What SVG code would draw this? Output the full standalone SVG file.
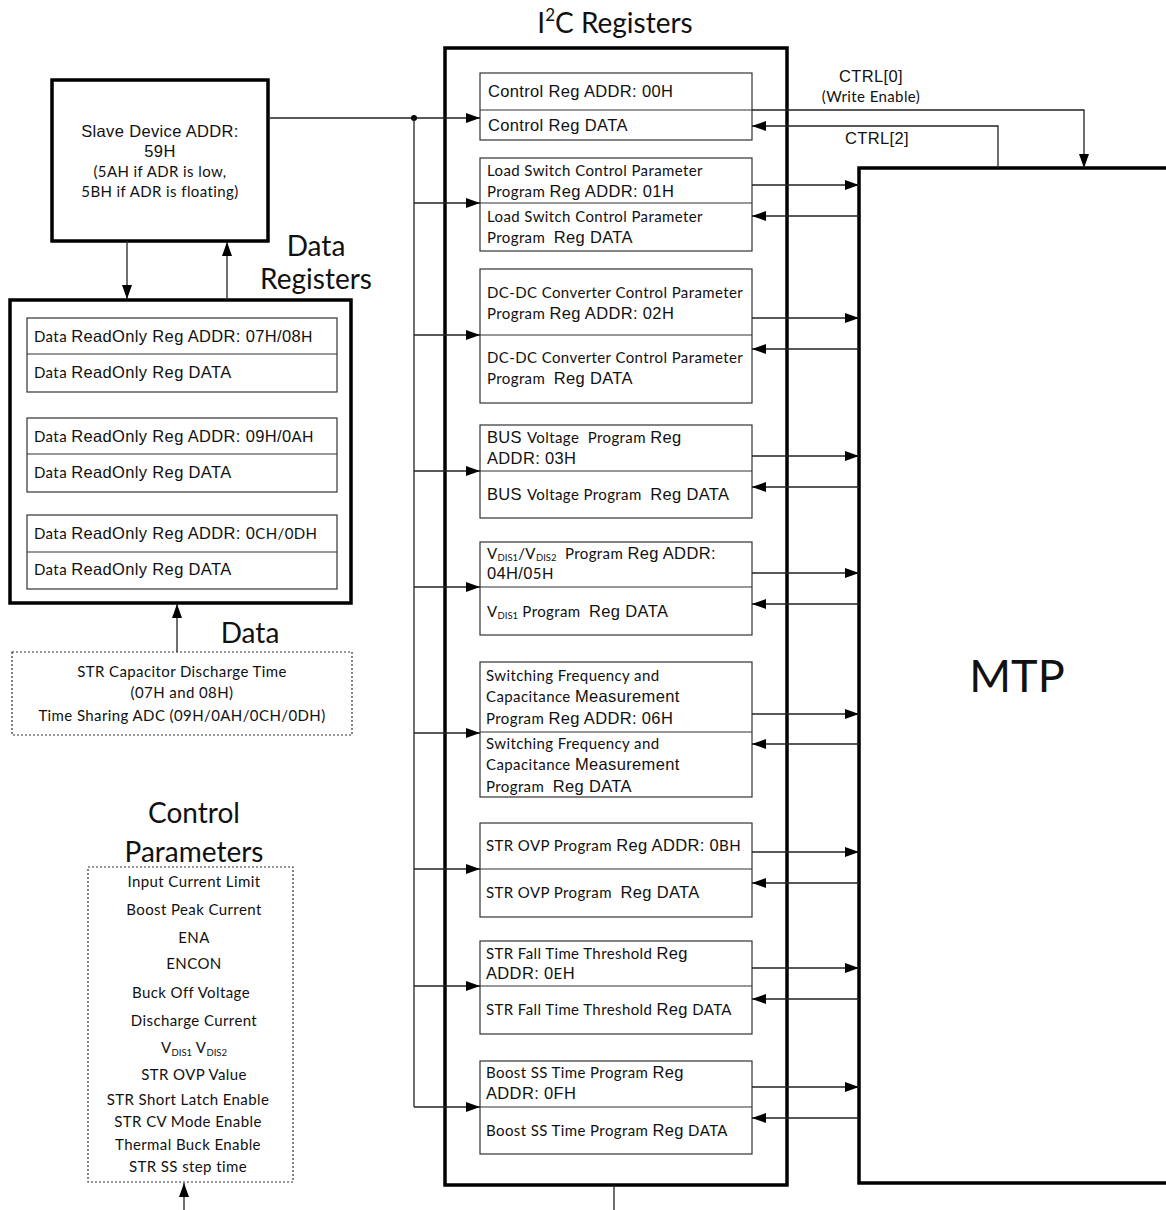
<svg xmlns="http://www.w3.org/2000/svg" width="1166" height="1210" viewBox="0 0 1166 1210">
<style>
.thick{fill:#fff;stroke:#000;stroke-width:3.5}
.reg{fill:#fff;stroke:#333;stroke-width:1.2}
.dot{fill:#fff;stroke:#333;stroke-width:1.2;stroke-dasharray:2 2}
.ln{fill:none;stroke:#222;stroke-width:1.3}
.a{font-family:"Liberation Sans",Arial,sans-serif;font-size:16.5px;letter-spacing:0.35px;fill:#111}
.c{font-family:Lato,"Noto Sans",sans-serif;font-size:15px;letter-spacing:0.4px;fill:#111}
.t{font-family:Lato,"Noto Sans",sans-serif;font-size:28px;fill:#111}
.sub{font-size:9.5px;letter-spacing:0}
.mid{text-anchor:middle}
.p{white-space:pre}
</style>
<defs>
<marker id="ah" viewBox="0 0 14 10" refX="14" refY="5" markerWidth="14" markerHeight="10" markerUnits="userSpaceOnUse" orient="auto">
<path d="M0,0 L14,5 L0,10 Z" fill="#000"/>
</marker>
</defs>

<text class="t mid" x="615" y="33">I<tspan font-size="17" dy="-12">2</tspan><tspan dy="12">C Registers</tspan></text>
<text class="t mid" x="316" y="256">Data</text>
<text class="t mid" x="316" y="289">Registers</text>
<text class="t mid" x="250" y="643">Data</text>
<text class="t mid" x="194" y="823">Control</text>
<text class="t mid" x="194" y="862">Parameters</text>

<g id="slave">
<rect class="thick" x="52" y="80" width="216" height="161"/>
<text class="a mid" x="160" y="137" font-size="16">Slave Device ADDR:</text>
<text class="a mid" x="160" y="157" font-size="16">59H</text>
<text class="c mid" x="160" y="177">(5AH if ADR is low,</text>
<text class="c mid" x="160" y="197">5BH if ADR is floating)</text>
</g>

<g id="data-registers">
<rect class="thick" x="10" y="300" width="341" height="303"/>
<rect class="reg" x="27" y="318" width="310" height="74"/>
<line class="reg" x1="27" y1="354" x2="337" y2="354"/>
<text class="a" x="34" y="342"><tspan class="c" font-size="14">Data </tspan>ReadOnly Reg ADDR: 07H/08<tspan class="c" font-size="14">H</tspan></text>
<text class="a" x="34" y="378"><tspan class="c" font-size="14">Data </tspan>ReadOnly Reg DATA</text>
<rect class="reg" x="27" y="418" width="310" height="74"/>
<line class="reg" x1="27" y1="454" x2="337" y2="454"/>
<text class="a" x="34" y="442"><tspan class="c" font-size="14">Data </tspan>ReadOnly Reg ADDR: 09H/0<tspan class="c" font-size="14">AH</tspan></text>
<text class="a" x="34" y="478"><tspan class="c" font-size="14">Data </tspan>ReadOnly Reg DATA</text>
<rect class="reg" x="27" y="515" width="310" height="74"/>
<line class="reg" x1="27" y1="552" x2="337" y2="552"/>
<text class="a" x="34" y="539"><tspan class="c" font-size="14">Data </tspan>ReadOnly Reg ADDR: 0<tspan class="c" font-size="14">CH/0DH</tspan></text>
<text class="a" x="34" y="575"><tspan class="c" font-size="14">Data </tspan>ReadOnly Reg DATA</text>
</g>

<g id="data-source">
<rect class="dot" x="12" y="652" width="340" height="83"/>
<text class="c mid" x="182" y="677">STR Capacitor Discharge Time</text>
<text class="c mid" x="182" y="698">(07H and 08H)</text>
<text class="c mid" x="182" y="721">Time Sharing ADC (09H/0AH/0CH/0DH)</text>
</g>

<g id="control-parameters">
<rect class="dot" x="88" y="867" width="205" height="315"/>
<text class="c mid" x="194" y="887">Input Current Limit</text>
<text class="c mid" x="194" y="915">Boost Peak Current</text>
<text class="c mid" x="194" y="943">ENA</text>
<text class="c mid" x="194" y="969">ENCON</text>
<text class="c mid" x="191" y="998">Buck Off Voltage</text>
<text class="c mid" x="194" y="1026">Discharge Current</text>
<text class="c mid" x="194" y="1053">V<tspan class="sub" dy="3">DIS1</tspan><tspan dy="-3"> V</tspan><tspan class="sub" dy="3">DIS2</tspan></text>
<text class="c mid" x="194" y="1080">STR OVP Value</text>
<text class="c mid" x="188" y="1105">STR Short Latch Enable</text>
<text class="c mid" x="188" y="1127">STR CV Mode Enable</text>
<text class="c mid" x="188" y="1150">Thermal Buck Enable</text>
<text class="c mid" x="188" y="1172">STR SS step time</text>
</g>

<g id="i2c-registers">
<rect class="thick" x="445" y="48" width="342" height="1137"/>
</g>

<g id="reg-control">
<rect class="reg" x="480" y="73" width="272" height="67"/>
<line class="reg" x1="480" y1="110" x2="752" y2="110"/>
<text class="a" x="488" y="97">Control Reg ADDR: 00H</text>
<text class="a" x="488" y="131">Control Reg DATA</text>
</g>

<g id="reg-load-switch">
<rect class="reg" x="480" y="158" width="272" height="93"/>
<line class="reg" x1="480" y1="203" x2="752" y2="203"/>
<text class="c" x="487" y="176">Load Switch Control Parameter</text>
<text class="c" x="487" y="197">Program <tspan class="a">Reg ADDR: 01H</tspan></text>
<text class="c" x="487" y="222">Load Switch Control Parameter</text>
<text class="c p" x="487" y="243">Program  <tspan class="a">Reg DATA</tspan></text>
</g>

<g id="reg-dcdc">
<rect class="reg" x="480" y="269" width="272" height="134"/>
<line class="reg" x1="480" y1="335" x2="752" y2="335"/>
<text class="c" x="487" y="298">DC-DC Converter Control Parameter</text>
<text class="c" x="487" y="319">Program <tspan class="a">Reg ADDR: 02H</tspan></text>
<text class="c" x="487" y="363">DC-DC Converter Control Parameter</text>
<text class="c p" x="487" y="384">Program  <tspan class="a">Reg DATA</tspan></text>
</g>

<g id="reg-bus-voltage">
<rect class="reg" x="480" y="425" width="272" height="93"/>
<line class="reg" x1="480" y1="471" x2="752" y2="471"/>
<text class="a p" x="487" y="443">BUS <tspan class="c">Voltage  Program </tspan>Reg</text>
<text class="a" x="487" y="464">ADDR: 03H</text>
<text class="a p" x="487" y="500">BUS <tspan class="c">Voltage Program  </tspan>Reg DATA</text>
</g>

<g id="reg-vdis">
<rect class="reg" x="480" y="542" width="272" height="93"/>
<line class="reg" x1="480" y1="587" x2="752" y2="587"/>
<text class="c p" x="487" y="559">V<tspan class="sub" dy="2">DIS1</tspan><tspan dy="-2">/V</tspan><tspan class="sub" dy="2">DIS2</tspan><tspan dy="-2">  Program </tspan><tspan class="a">Reg ADDR:</tspan></text>
<text class="a" x="487" y="579">04H/0<tspan class="c">5H</tspan></text>
<text class="c p" x="487" y="617">V<tspan class="sub" dy="2">DIS1</tspan><tspan dy="-2"> Program  </tspan><tspan class="a">Reg DATA</tspan></text>
</g>

<g id="reg-switching">
<rect class="reg" x="480" y="662" width="272" height="135"/>
<line class="reg" x1="480" y1="732" x2="752" y2="732"/>
<text class="c" x="486" y="681">Switching Frequency and</text>
<text class="c" x="486" y="702">Capacitance <tspan class="a">Measurement</tspan></text>
<text class="c" x="486" y="724">Program <tspan class="a">Reg ADDR: 06H</tspan></text>
<text class="c" x="486" y="749">Switching Frequency and</text>
<text class="c" x="486" y="770">Capacitance <tspan class="a">Measurement</tspan></text>
<text class="c p" x="486" y="792">Program  <tspan class="a">Reg DATA</tspan></text>
</g>

<g id="reg-str-ovp">
<rect class="reg" x="480" y="823" width="272" height="94"/>
<line class="reg" x1="480" y1="869" x2="752" y2="869"/>
<text class="c" x="486" y="851">STR OVP Program <tspan class="a">Reg ADDR: 0</tspan>BH</text>
<text class="c p" x="486" y="898">STR OVP Program  <tspan class="a">Reg DATA</tspan></text>
</g>

<g id="reg-str-fall">
<rect class="reg" x="480" y="941" width="272" height="93"/>
<line class="reg" x1="480" y1="986" x2="752" y2="986"/>
<text class="c" x="486" y="959">STR Fall Time Threshold <tspan class="a">Reg</tspan></text>
<text class="a" x="486" y="979">ADDR: 0<tspan class="c">E</tspan>H</text>
<text class="c" x="486" y="1015">STR Fall Time Threshold <tspan class="a">Reg</tspan> DATA</text>
</g>

<g id="reg-boost-ss">
<rect class="reg" x="480" y="1061" width="272" height="93"/>
<line class="reg" x1="480" y1="1107" x2="752" y2="1107"/>
<text class="c" x="486" y="1078">Boost SS Time Program <tspan class="a">Reg</tspan></text>
<text class="a" x="486" y="1099">ADDR: 0FH</text>
<text class="c" x="486" y="1136">Boost SS Time Program <tspan class="a">Reg</tspan> DATA</text>
</g>

<g id="mtp">
<path d="M1170,168 H859 V1183 H1170" fill="#fff" stroke="#000" stroke-width="3.5"/>
<text x="1017" y="692" text-anchor="middle" font-family="Lato,'Noto Sans',sans-serif" font-size="45" fill="#111">MTP</text>
</g>

<g id="connectors">
<path class="ln" d="M127,241 V299" marker-end="url(#ah)"/>
<path class="ln" d="M227,300 V242" marker-end="url(#ah)"/>
<path class="ln" d="M177,652 V604" marker-end="url(#ah)"/>
<path class="ln" d="M184,1210 V1183" marker-end="url(#ah)"/>
<path class="ln" d="M614,1185 V1210"/>
<path class="ln" d="M268,118 H480" marker-end="url(#ah)"/>
<circle cx="414" cy="118" r="3" fill="#000"/>
<path class="ln" d="M414,118 V1107"/>
<path class="ln" d="M414,203 H480" marker-end="url(#ah)"/>
<path class="ln" d="M414,335 H480" marker-end="url(#ah)"/>
<path class="ln" d="M414,471 H480" marker-end="url(#ah)"/>
<path class="ln" d="M414,587 H480" marker-end="url(#ah)"/>
<path class="ln" d="M414,733 H480" marker-end="url(#ah)"/>
<path class="ln" d="M414,869 H480" marker-end="url(#ah)"/>
<path class="ln" d="M414,986 H480" marker-end="url(#ah)"/>
<path class="ln" d="M414,1107 H480" marker-end="url(#ah)"/>
<path class="ln" d="M752,110 H1084 V168" marker-end="url(#ah)"/>
<path class="ln" d="M998,168 V126 H752" marker-end="url(#ah)"/>
<path class="ln" d="M752,185 H859" marker-end="url(#ah)"/>
<path class="ln" d="M859,216 H752" marker-end="url(#ah)"/>
<path class="ln" d="M752,318 H859" marker-end="url(#ah)"/>
<path class="ln" d="M859,349 H752" marker-end="url(#ah)"/>
<path class="ln" d="M752,456 H859" marker-end="url(#ah)"/>
<path class="ln" d="M859,487 H752" marker-end="url(#ah)"/>
<path class="ln" d="M752,573 H859" marker-end="url(#ah)"/>
<path class="ln" d="M859,604 H752" marker-end="url(#ah)"/>
<path class="ln" d="M752,714 H859" marker-end="url(#ah)"/>
<path class="ln" d="M859,744 H752" marker-end="url(#ah)"/>
<path class="ln" d="M752,852 H859" marker-end="url(#ah)"/>
<path class="ln" d="M859,883 H752" marker-end="url(#ah)"/>
<path class="ln" d="M752,968 H859" marker-end="url(#ah)"/>
<path class="ln" d="M859,999 H752" marker-end="url(#ah)"/>
<path class="ln" d="M752,1087 H859" marker-end="url(#ah)"/>
<path class="ln" d="M859,1118 H752" marker-end="url(#ah)"/>
<text class="a mid" x="871" y="82" font-size="16">CTRL[0]</text>
<text class="c mid" x="871" y="102" font-size="14.5">(Write Enable)</text>
<text class="a mid" x="877" y="144" font-size="16">CTRL[2]</text>
</g>
</svg>
